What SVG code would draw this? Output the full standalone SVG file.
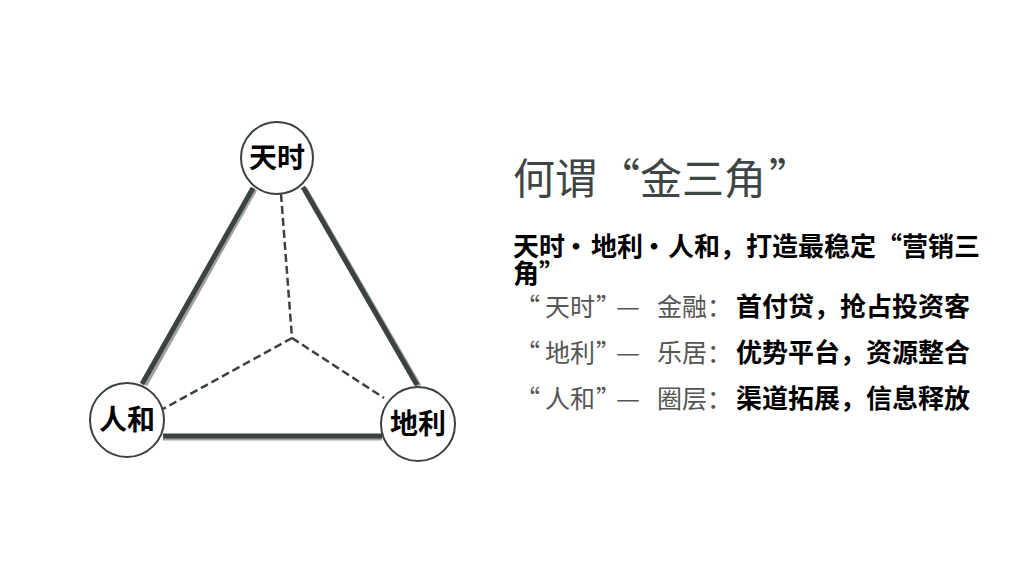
<svg xmlns="http://www.w3.org/2000/svg" width="1024" height="576" viewBox="0 0 1024 576">
<style>
.edge{stroke:#3a4341;stroke-width:5;fill:none;stroke-linecap:butt}
.shadow{stroke:#a0a0a0;stroke-width:5;fill:none}
.dash{stroke:#3a4341;stroke-width:2.5;fill:none;stroke-dasharray:8 4}
.node{fill:#fff;stroke:#3a4341;stroke-width:2}
.nlabel{font-family:"Noto Sans CJK SC",sans-serif;font-weight:bold;font-size:28px;fill:#000;text-anchor:middle}
.title{font-family:"Noto Sans CJK SC",sans-serif;font-size:42px;fill:#3d4644}
.sub{font-family:"Noto Sans CJK SC",sans-serif;font-weight:bold;font-size:26px;fill:#000}
.gray{font-family:"Noto Sans CJK SC",sans-serif;font-size:25px;fill:#555}
.bold{font-family:"Noto Sans CJK SC",sans-serif;font-weight:bold;font-size:26px;fill:#000}
</style>
<rect width="1024" height="576" fill="#fff"/>
<g id="connectors">
<line class="shadow" x1="255" y1="189" x2="145" y2="385"/>
<line class="shadow" x1="305" y1="189" x2="419" y2="386"/>
<line class="shadow" x1="163" y1="438" x2="382" y2="438"/>
<line class="edge" x1="253" y1="188" x2="142" y2="384"/>
<line class="edge" x1="303" y1="187" x2="417" y2="385"/>
<line class="edge" x1="163" y1="436" x2="382" y2="436"/>
<line class="dash" x1="281" y1="194" x2="292" y2="338"/>
<line class="dash" x1="292" y1="338" x2="163" y2="409"/>
<line class="dash" x1="292" y1="338" x2="384" y2="398"/>
</g>
<g id="node-tianshi">
<circle class="node" cx="277" cy="158" r="36"/>
<text class="nlabel" x="277" y="168">天时</text>
</g>
<g id="node-renhe">
<circle class="node" cx="127" cy="420" r="37"/>
<text class="nlabel" x="127" y="430">人和</text>
</g>
<g id="node-dili">
<circle class="node" cx="418" cy="424" r="37"/>
<text class="nlabel" x="418" y="434">地利</text>
</g>
<g id="text">
<text class="title" y="194"><tspan x="513">何谓</tspan><tspan x="598">“</tspan><tspan x="640">金三角</tspan><tspan x="769">”</tspan></text>
<text class="sub" y="256"><tspan x="513">天时</tspan><tspan x="563">·</tspan><tspan x="591">地利</tspan><tspan x="641">·</tspan><tspan x="668">人和，打造最稳定“营销三</tspan></text>
<text class="sub" x="513" y="283">角”</text>
<text class="gray" y="316"><tspan x="515">“</tspan><tspan x="545">天时</tspan><tspan x="596">”</tspan><tspan x="616" textLength="24" lengthAdjust="spacingAndGlyphs">—</tspan><tspan x="657">金融：</tspan></text>
<text class="bold" x="736" y="316">首付贷，抢占投资客</text>
<text class="gray" y="362"><tspan x="515">“</tspan><tspan x="545">地利</tspan><tspan x="596">”</tspan><tspan x="616" textLength="24" lengthAdjust="spacingAndGlyphs">—</tspan><tspan x="657">乐居：</tspan></text>
<text class="bold" x="736" y="362">优势平台，资源整合</text>
<text class="gray" y="408"><tspan x="515">“</tspan><tspan x="545">人和</tspan><tspan x="596">”</tspan><tspan x="616" textLength="24" lengthAdjust="spacingAndGlyphs">—</tspan><tspan x="657">圈层：</tspan></text>
<text class="bold" x="736" y="408">渠道拓展，信息释放</text>
</g>
</svg>
